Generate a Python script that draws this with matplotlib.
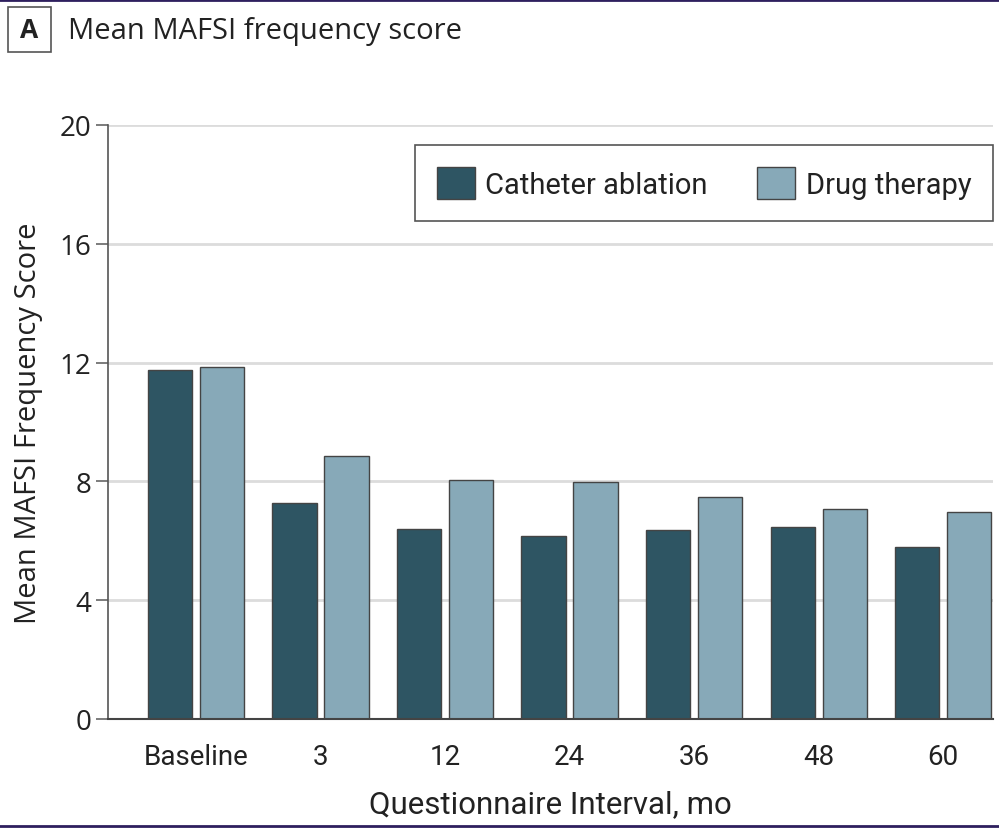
import matplotlib
matplotlib.use("Agg")
import matplotlib.pyplot as plt
from matplotlib.patches import Rectangle
from matplotlib.lines import Line2D
import numpy as np

categories = ["Baseline", "3", "12", "24", "36", "48", "60"]
catheter = [11.75, 7.27, 6.40, 6.17, 6.37, 6.47, 5.78]
drug = [11.85, 8.85, 8.06, 7.97, 7.46, 7.07, 6.98]
yticks = [0, 4, 8, 12, 16, 20]

c_dark = "#2e5563"
c_light = "#87a9b8"
edge = "#444444"

cond = ["Roboto", "DejaVu Sans"]
reg = ["Open Sans", "DejaVu Sans"]

fig = plt.figure(figsize=(9.99, 8.29), dpi=100)
ax = fig.add_axes([108/999, 1-720/829, (993-108)/999, (720-126)/829])

x = np.arange(len(categories))
w = 0.355
off = 0.209
ax.bar(x - off, catheter, w, color=c_dark, edgecolor=edge, linewidth=1.0, zorder=3, label="Catheter ablation")
ax.bar(x + off, drug, w, color=c_light, edgecolor=edge, linewidth=1.0, zorder=3, label="Drug therapy")

ax.set_xlim(-0.706, 6.4)
ax.set_ylim(0, 20)
ax.set_yticks(yticks)
ax.set_yticklabels([str(v) for v in yticks], family=reg, fontsize=20, color="#222222")
ax.set_xticks(x)
ax.set_xticklabels(categories, family=cond, fontsize=20, color="#222222")
ax.tick_params(axis="x", length=0, pad=17)
ax.tick_params(axis="y", length=9, width=1.2, color="#666666", pad=3)
ax.yaxis.grid(True, color="#dcdcdc", linewidth=2, zorder=0)
ax.set_axisbelow(True)
for s in ["top", "right"]:
    ax.spines[s].set_visible(False)
ax.spines["left"].set_color("#555555")
ax.spines["left"].set_linewidth(1.2)
ax.spines["bottom"].set_color("#444444")
ax.spines["bottom"].set_linewidth(1.5)
ax.spines["bottom"].set_zorder(4)

ax.set_xlabel("Questionnaire Interval, mo", family=cond, fontsize=22.5, color="#222222", labelpad=14)
ax.set_ylabel("Mean MAFSI Frequency Score", family=reg, fontsize=21, color="#222222", labelpad=12)

leg = ax.legend(loc="upper right", bbox_to_anchor=(1.0, 1 - (146-126)/594), ncol=2,
                prop={"family": cond, "size": 21}, frameon=True, fancybox=False,
                edgecolor="#555555", framealpha=1, handlelength=1.3, handleheight=1.3,
                handletextpad=0.35, columnspacing=1.7, borderpad=0.75, borderaxespad=0)
leg.get_frame().set_linewidth(1.2)
for t in leg.get_texts():
    t.set_color("#222222")

# Panel label
fig.patches.append(Rectangle((8/999, 1-53/829), 43/999, 45/829, transform=fig.transFigure,
                             fill=False, edgecolor="#555555", linewidth=1.2))
fig.text(29.5/999, 1-31/829, "A", family=reg, fontsize=19, fontweight="bold",
         ha="center", va="center", color="#222222")
fig.text(68/999, 1-31/829, "Mean MAFSI frequency score", family=reg, fontsize=21,
         ha="left", va="center", color="#222222")

# purple border lines
fig.add_artist(Line2D([0, 1], [1-1/829, 1-1/829], transform=fig.transFigure, color="#2e1f5e", linewidth=2))
fig.add_artist(Line2D([0, 1], [1-827/829, 1-827/829], transform=fig.transFigure, color="#2e1f5e", linewidth=2))

fig.savefig("out.png", dpi=100)
